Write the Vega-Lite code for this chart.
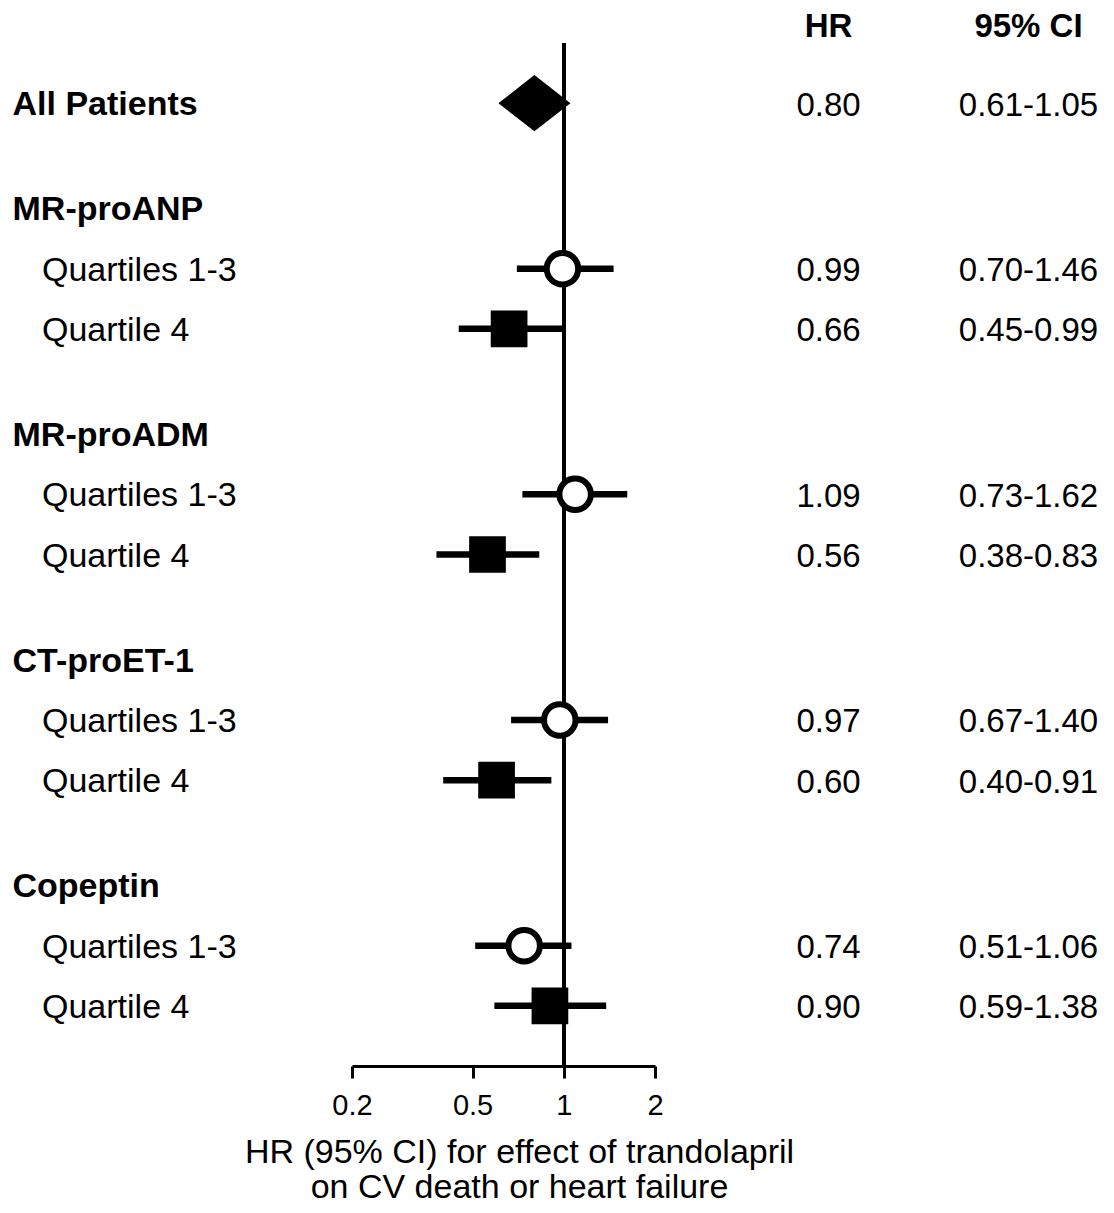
{
  "$schema": "https://vega.github.io/schema/vega-lite/v6.json",
  "width": 303,
  "height": 1023,
  "autosize": {"type": "none"},
  "padding": {"left": 352, "top": 43, "right": 459, "bottom": 147},
  "background": "white",
  "config": {"view": {"stroke": null}, "font": "Liberation Sans", "text": {"font": "Liberation Sans", "color": "black"}},
  "datasets": {
    "rows": [
      {"label": "All Patients", "level": "group", "pos": 0, "hr": 0.80, "lo": 0.61, "hi": 1.05, "hrText": "0.80", "ciText": "0.61-1.05", "kind": "overall"},
      {"label": "MR-proANP", "level": "group", "pos": 1.75},
      {"label": "Quartiles 1-3", "level": "sub", "pos": 2.75, "hr": 0.99, "lo": 0.70, "hi": 1.46, "hrText": "0.99", "ciText": "0.70-1.46", "kind": "low"},
      {"label": "Quartile 4", "level": "sub", "pos": 3.75, "hr": 0.66, "lo": 0.45, "hi": 0.99, "hrText": "0.66", "ciText": "0.45-0.99", "kind": "high"},
      {"label": "MR-proADM", "level": "group", "pos": 5.5},
      {"label": "Quartiles 1-3", "level": "sub", "pos": 6.5, "hr": 1.09, "lo": 0.73, "hi": 1.62, "hrText": "1.09", "ciText": "0.73-1.62", "kind": "low"},
      {"label": "Quartile 4", "level": "sub", "pos": 7.5, "hr": 0.56, "lo": 0.38, "hi": 0.83, "hrText": "0.56", "ciText": "0.38-0.83", "kind": "high"},
      {"label": "CT-proET-1", "level": "group", "pos": 9.25},
      {"label": "Quartiles 1-3", "level": "sub", "pos": 10.25, "hr": 0.97, "lo": 0.67, "hi": 1.40, "hrText": "0.97", "ciText": "0.67-1.40", "kind": "low"},
      {"label": "Quartile 4", "level": "sub", "pos": 11.25, "hr": 0.60, "lo": 0.40, "hi": 0.91, "hrText": "0.60", "ciText": "0.40-0.91", "kind": "high"},
      {"label": "Copeptin", "level": "group", "pos": 13},
      {"label": "Quartiles 1-3", "level": "sub", "pos": 14, "hr": 0.74, "lo": 0.51, "hi": 1.06, "hrText": "0.74", "ciText": "0.51-1.06", "kind": "low"},
      {"label": "Quartile 4", "level": "sub", "pos": 15, "hr": 0.90, "lo": 0.59, "hi": 1.38, "hrText": "0.90", "ciText": "0.59-1.38", "kind": "high"}
    ],
    "headers": [
      {"col": "HR", "text": "HR"},
      {"col": "CI", "text": "95% CI"}
    ]
  },
  "data": {"name": "rows"},
  "layer": [
    {
      "layer": [
        {
          "mark": {"type": "rule", "strokeWidth": 3, "color": "black"},
          "encoding": {
            "x": {
              "datum": 1, "type": "quantitative",
              "scale": {"type": "log", "domain": [0.2, 2], "nice": false, "zero": false},
              "axis": {
                "values": [0.2, 0.5, 1, 2], "format": "~g", "grid": false,
                "domainWidth": 3, "domainColor": "black",
                "tickWidth": 3, "tickColor": "black", "tickSize": 12,
                "labelFontSize": 29, "labelColor": "black", "labelPadding": 36, "labelBaseline": "alphabetic", "labelFlush": false,
                "labelFont": "Liberation Sans",
                "title": ["HR (95% CI) for effect of trandolapril", "on CV death or heart failure"],
                "titleFont": "Liberation Sans", "titleFontSize": 34, "titleFontWeight": "normal", "titleColor": "black",
                "titleX": 167, "titleY": 96, "titleBaseline": "alphabetic", "titleLineHeight": 35, "titleAlign": "center"
              }
            }
          }
        },
        {
          "transform": [{"filter": "datum.kind === 'low' || datum.kind === 'high'"}],
          "mark": {"type": "rule", "strokeWidth": 6.5, "color": "black"},
          "encoding": {
            "x": {"field": "lo", "type": "quantitative", "scale": {"type": "log", "domain": [0.2, 2], "nice": false, "zero": false}},
            "x2": {"field": "hi"},
            "y": {"field": "pos", "type": "quantitative", "scale": {"domain": [-1, 16], "reverse": true, "nice": false, "zero": false}, "axis": null}
          }
        },
        {
          "transform": [{"filter": "datum.kind === 'overall'"}],
          "mark": {"type": "point", "shape": "M-1,0L0,-0.78L1,0L0,0.78Z", "filled": true, "color": "black", "size": 5184, "opacity": 1, "strokeWidth": 0},
          "encoding": {
            "x": {"field": "hr", "type": "quantitative", "scale": {"type": "log", "domain": [0.2, 2], "nice": false, "zero": false}},
            "y": {"field": "pos", "type": "quantitative", "scale": {"domain": [-1, 16], "reverse": true, "nice": false, "zero": false}, "axis": null}
          }
        },
        {
          "transform": [{"filter": "datum.kind === 'low'"}],
          "mark": {"type": "point", "shape": "circle", "filled": true, "fill": "white", "stroke": "black", "strokeWidth": 6, "size": 990, "opacity": 1},
          "encoding": {
            "x": {"field": "hr", "type": "quantitative", "scale": {"type": "log", "domain": [0.2, 2], "nice": false, "zero": false}},
            "y": {"field": "pos", "type": "quantitative", "scale": {"domain": [-1, 16], "reverse": true, "nice": false, "zero": false}, "axis": null}
          }
        },
        {
          "transform": [{"filter": "datum.kind === 'high'"}],
          "mark": {"type": "point", "shape": "square", "filled": true, "color": "black", "size": 1347, "opacity": 1, "strokeWidth": 0},
          "encoding": {
            "x": {"field": "hr", "type": "quantitative", "scale": {"type": "log", "domain": [0.2, 2], "nice": false, "zero": false}},
            "y": {"field": "pos", "type": "quantitative", "scale": {"domain": [-1, 16], "reverse": true, "nice": false, "zero": false}, "axis": null}
          }
        }
      ]
    },
    {
      "layer": [
        {
          "transform": [{"filter": "datum.level === 'group'"}],
          "mark": {"type": "text", "align": "left", "baseline": "alphabetic", "dy": 12, "fontSize": 34, "fontWeight": "bold", "color": "black"},
          "encoding": {
            "x": {"field": "level", "type": "nominal", "scale": {"type": "point", "domain": ["group", "sub"], "range": [-339.5, -310], "padding": 0}, "axis": null},
            "y": {"field": "pos", "type": "quantitative", "scale": {"domain": [-1, 16], "reverse": true, "nice": false, "zero": false}, "axis": null},
            "text": {"field": "label"}
          }
        },
        {
          "transform": [{"filter": "datum.level === 'sub'"}],
          "mark": {"type": "text", "align": "left", "baseline": "alphabetic", "dy": 12, "fontSize": 34, "color": "black"},
          "encoding": {
            "x": {"field": "level", "type": "nominal", "scale": {"type": "point", "domain": ["group", "sub"], "range": [-339.5, -310], "padding": 0}, "axis": null},
            "y": {"field": "pos", "type": "quantitative", "scale": {"domain": [-1, 16], "reverse": true, "nice": false, "zero": false}, "axis": null},
            "text": {"field": "label"}
          }
        }
      ]
    },
    {
      "layer": [
        {
          "data": {"name": "headers"},
          "mark": {"type": "text", "align": "center", "baseline": "alphabetic", "dy": 12, "fontSize": 33, "fontWeight": "bold", "color": "black"},
          "encoding": {
            "x": {"field": "col", "type": "nominal", "scale": {"type": "point", "domain": ["HR", "CI"], "range": [476.5, 676.5], "padding": 0}, "axis": null},
            "y": {"datum": -1.3, "type": "quantitative", "scale": {"domain": [-1, 16], "reverse": true, "nice": false, "zero": false}, "axis": null},
            "text": {"field": "text"}
          }
        },
        {
          "transform": [{"filter": "isValid(datum.hrText)"}],
          "mark": {"type": "text", "align": "center", "baseline": "alphabetic", "dy": 12.5, "fontSize": 33, "color": "black"},
          "encoding": {
            "x": {"datum": "HR", "type": "nominal", "scale": {"type": "point", "domain": ["HR", "CI"], "range": [476.5, 676.5], "padding": 0}, "axis": null},
            "y": {"field": "pos", "type": "quantitative", "scale": {"domain": [-1, 16], "reverse": true, "nice": false, "zero": false}, "axis": null},
            "text": {"field": "hrText"}
          }
        },
        {
          "transform": [{"filter": "isValid(datum.ciText)"}],
          "mark": {"type": "text", "align": "center", "baseline": "alphabetic", "dy": 12.5, "fontSize": 33, "color": "black"},
          "encoding": {
            "x": {"datum": "CI", "type": "nominal", "scale": {"type": "point", "domain": ["HR", "CI"], "range": [476.5, 676.5], "padding": 0}, "axis": null},
            "y": {"field": "pos", "type": "quantitative", "scale": {"domain": [-1, 16], "reverse": true, "nice": false, "zero": false}, "axis": null},
            "text": {"field": "ciText"}
          }
        }
      ]
    }
  ],
  "resolve": {"scale": {"x": "independent"}, "axis": {"x": "independent"}}
}
